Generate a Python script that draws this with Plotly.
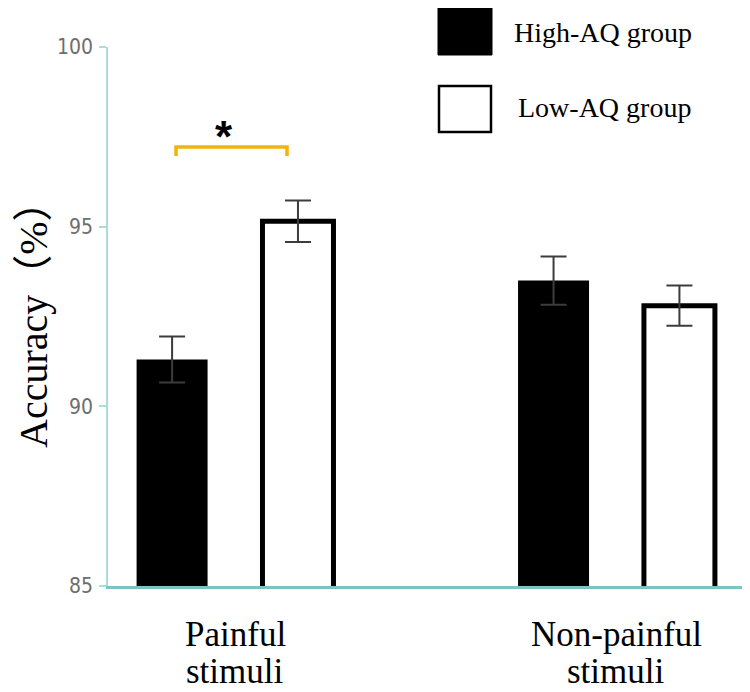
import plotly.graph_objects as go

# ---- data ----
categories = ["Painful", "Non-painful"]
category_lines = [["Painful", "stimuli"], ["Non-painful", "stimuli"]]
high_aq = [91.3, 93.5]
high_aq_err = [0.64, 0.67]
low_aq = [95.15, 92.8]
low_aq_err = [0.58, 0.56]
series_names = ["High-AQ group", "Low-AQ group"]
y_ticks = [85, 90, 95, 100]
y_title = "Accuracy（%）"

SERIF = "Liberation Serif, Times New Roman, serif"
NARROW = "Liberation Sans Narrow, Arial Narrow, DejaVu Sans Condensed, Roboto, sans-serif"
ERR_COLOR = "#3c3c3c"

fig = go.Figure()
fig.add_trace(go.Bar(
    x=categories, y=high_aq, name=series_names[0],
    marker=dict(color="black", line=dict(color="black", width=0)),
    error_y=dict(type="data", array=high_aq_err, visible=True,
                 color=ERR_COLOR, thickness=2, width=13),
    showlegend=False,
))
fig.add_trace(go.Bar(
    x=categories, y=low_aq, name=series_names[1],
    marker=dict(color="white", line=dict(color="black", width=5)),
    error_y=dict(type="data", array=low_aq_err, visible=True,
                 color=ERR_COLOR, thickness=2, width=13),
    showlegend=False,
))

# page has an 8px body margin: figure origin sits at (8, 8) on the page
OFF = 8
W, H = 750 - OFF, 692 - OFF
# plot area on the page: x 108..750, y 47..586
L = 108 - OFF
R = 0
T = 47 - OFF
B = (692 - OFF) - (586 - OFF)
pw, ph = W - L - R, H - T - B

def px_x(x):  # page pixel -> paper
    return (x - OFF - L) / pw

def px_y(y):  # page pixel -> paper
    return (H - B - (y - OFF)) / ph

# ---- legend (drawn) ----
shapes = [
    dict(type="rect", xref="paper", yref="paper",
         x0=px_x(438), x1=px_x(492), y0=px_y(55), y1=px_y(7),
         fillcolor="black", line=dict(color="black", width=1)),
    dict(type="rect", xref="paper", yref="paper",
         x0=px_x(439), x1=px_x(491), y0=px_y(132), y1=px_y(86),
         fillcolor="white", line=dict(color="black", width=2.5)),
]
annotations = [
    dict(text=series_names[0], xref="paper", yref="paper",
         x=px_x(512), y=px_y(33), xanchor="left", yanchor="middle",
         showarrow=False, font=dict(family=SERIF, size=28, color="black")),
    dict(text=series_names[1], xref="paper", yref="paper",
         x=px_x(516), y=px_y(108), xanchor="left", yanchor="middle",
         showarrow=False, font=dict(family=SERIF, size=28, color="black")),
]

# ---- significance bracket ----
bx0, bx1 = px_x(176), px_x(287)
by_top, by_bot = px_y(147), px_y(156)
shapes.append(dict(
    type="path", xref="paper", yref="paper",
    path=f"M {bx0},{by_bot} L {bx0},{by_top} L {bx1},{by_top} L {bx1},{by_bot}",
    line=dict(color="#F2B20F", width=3.5),
))
annotations.append(dict(
    text="<b>*</b>", xref="paper", yref="paper", x=px_x(224), y=px_y(136),
    xanchor="center", yanchor="middle", showarrow=False,
    font=dict(family="Liberation Sans, Arial, sans-serif", size=44, color="black"),
))

# ---- category labels (two lines) ----
for cat, lines in zip(categories, category_lines):
    for i, line in enumerate(lines):
        annotations.append(dict(
            text=line, xref="x", yref="paper", x=cat, y=px_y(634 + 37 * i),
            xanchor="center", yanchor="middle", showarrow=False,
            font=dict(family=SERIF, size=35, color="black"),
        ))

# ---- y title ----
annotations.append(dict(
    text=y_title, xref="paper", yref="paper", x=px_x(33), y=px_y(315),
    xanchor="center", yanchor="middle", textangle=-90, showarrow=False,
    borderpad=0,
    font=dict(family=SERIF + ", Noto Sans CJK SC", size=40, color="black"),
))

fig.update_layout(
    width=W, height=H,
    margin=dict(l=L, r=R, t=T, b=B),
    paper_bgcolor="white", plot_bgcolor="white",
    barmode="group", bargap=0.34, bargroupgap=0.436,
    shapes=shapes, annotations=annotations,
    showlegend=False,
    xaxis=dict(
        range=[-0.333, 1.35], showticklabels=False, ticks="",
        showline=True, linecolor="#7cc3c3", linewidth=2.5,
        showgrid=False, zeroline=False, fixedrange=True,
    ),
    yaxis=dict(
        range=[85, 100], tickvals=y_ticks, ticktext=[str(v) for v in y_ticks],
        ticks="outside", ticklen=7, tickcolor="#a9dcdc", tickwidth=1.5,
        showline=True, linecolor="#a9dcdc", linewidth=1.5,
        showgrid=False, zeroline=False,
        tickfont=dict(family=NARROW, size=21, color="#6e6e6e"),
        ticklabelstandoff=2,
    ),
)

fig.write_html("out.html")
